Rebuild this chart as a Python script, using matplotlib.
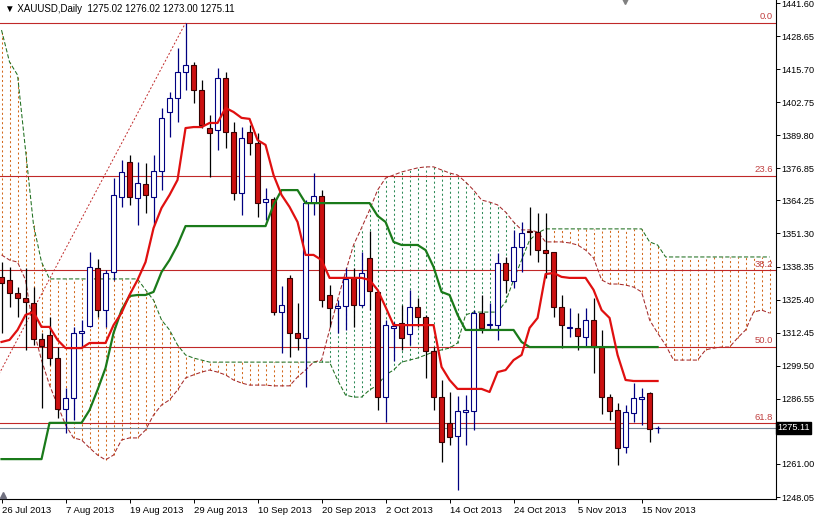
import matplotlib.pyplot as plt
import numpy as np

plt.rcParams['font.family'] = ['Liberation Sans', 'DejaVu Sans']

# --- daily OHLC, XAUUSD, 26 Jul 2013 .. 19 Nov 2013 (bar index = position) ---
open_ = [1334.3, 1333.1, 1328.0, 1326.0, 1324.1, 1310.0, 1311.5, 1302.5, 1282.5, 1286.8,
         1312.3, 1315.1, 1337.8, 1321.3, 1336.2, 1365.6, 1379.3, 1365.2, 1370.7, 1365.6,
         1375.8, 1398.9, 1404.4, 1414.6, 1417.3, 1407.5, 1392.6, 1391.9, 1412.2, 1391.1,
         1367.2, 1391.1, 1386.8, 1363.6, 1364.8, 1320.5, 1333.9, 1312.3, 1310.4, 1363.2,
         1366.0, 1327.2, 1322.1, 1322.9, 1333.9, 1323.3, 1341.7, 1328.4, 1287.2, 1314.3,
         1316.2, 1311.9, 1322.5, 1318.6, 1305.3, 1287.2, 1277.1, 1272.0, 1281.4, 1281.7,
         1320.1, 1315.4, 1315.4, 1339.7, 1332.7, 1346.0, 1352.3, 1351.9, 1344.8, 1344.1,
         1322.5, 1314.3, 1314.3, 1310.7, 1317.4, 1306.8, 1287.2, 1282.1, 1267.7, 1281.0,
         1286.4, 1288.8, 1275.02]
high = [1340.1, 1338.2, 1330.3, 1337.8, 1330.3, 1312.3, 1318.6, 1306.8, 1290.8, 1314.7,
        1317.4, 1344.1, 1341.3, 1337.0, 1373.0, 1380.1, 1382.1, 1379.3, 1378.9, 1382.1,
        1400.5, 1406.7, 1424.0, 1433.8, 1418.5, 1411.4, 1397.7, 1416.1, 1414.6, 1395.0,
        1393.0, 1393.8, 1390.7, 1369.1, 1365.6, 1330.7, 1335.0, 1324.1, 1364.4, 1375.0,
        1368.3, 1331.1, 1325.2, 1337.8, 1337.8, 1344.1, 1352.3, 1329.2, 1317.4, 1316.6,
        1323.3, 1329.2, 1326.0, 1319.4, 1306.8, 1293.9, 1289.2, 1287.6, 1288.0, 1321.3,
        1327.2, 1324.1, 1343.6, 1342.1, 1352.7, 1355.8, 1361.7, 1359.3, 1359.3, 1344.1,
        1327.2, 1322.1, 1320.2, 1322.1, 1326.0, 1313.5, 1288.4, 1284.9, 1284.1, 1292.7,
        1290.8, 1289.2, 1276.02]
low = [1312.3, 1322.5, 1318.6, 1305.7, 1307.6, 1282.9, 1299.8, 1279.0, 1273.1, 1278.2,
       1306.4, 1314.7, 1318.6, 1314.7, 1333.1, 1361.7, 1362.5, 1354.6, 1359.3, 1354.6,
       1368.3, 1389.1, 1395.0, 1407.5, 1402.4, 1392.6, 1373.4, 1384.0, 1384.8, 1364.4,
       1358.5, 1382.1, 1357.8, 1356.6, 1319.4, 1304.5, 1302.9, 1305.7, 1291.2, 1358.5,
       1322.5, 1314.7, 1312.3, 1313.5, 1314.7, 1322.5, 1321.3, 1282.1, 1277.4, 1301.3,
       1305.7, 1307.6, 1314.7, 1294.7, 1282.1, 1261.8, 1268.4, 1250.8, 1268.4, 1274.3,
       1312.3, 1313.5, 1309.6, 1328.0, 1329.9, 1336.2, 1342.9, 1340.1, 1333.9, 1318.6,
       1306.4, 1310.7, 1305.7, 1306.8, 1296.6, 1280.6, 1278.2, 1260.6, 1265.3, 1277.4,
       1276.3, 1269.6, 1273.00]
close = [1331.9, 1328.0, 1326.0, 1324.5, 1310.0, 1307.2, 1302.5, 1282.5, 1286.8, 1312.3,
         1313.1, 1338.2, 1321.3, 1335.8, 1366.4, 1375.4, 1365.6, 1371.1, 1366.4, 1375.8,
         1396.6, 1404.4, 1414.6, 1417.3, 1407.5, 1393.8, 1390.7, 1412.2, 1391.1, 1367.2,
         1388.7, 1386.8, 1363.2, 1364.8, 1320.5, 1323.3, 1312.3, 1310.4, 1363.2, 1366.0,
         1325.2, 1322.1, 1322.9, 1333.5, 1323.3, 1335.8, 1328.8, 1287.2, 1315.4, 1315.1,
         1310.4, 1322.5, 1318.6, 1305.3, 1287.2, 1269.6, 1271.6, 1281.7, 1282.1, 1320.1,
         1314.3, 1315.8, 1339.7, 1333.1, 1346.0, 1351.5, 1351.9, 1344.8, 1343.6, 1322.5,
         1315.4, 1314.7, 1311.1, 1317.4, 1306.8, 1287.2, 1281.7, 1267.3, 1281.4, 1286.8,
         1287.2, 1274.7, 1275.11]

# --- Ichimoku lines ---
tenkan = [1308.8, 1309.6, 1313.5, 1319.4, 1320.5, 1314.7, 1314.7, 1309.6, 1306.4, 1306.4,
          1306.4, 1308.4, 1308.4, 1308.4, 1315.4, 1320.2, 1327.2, 1333.1, 1340.1, 1353.4,
          1361.3, 1366.4, 1372.3, 1392.6, 1393.0, 1393.0, 1394.6, 1394.6, 1400.5, 1398.9,
          1396.6, 1396.2, 1387.9, 1386.0, 1374.2, 1366.4, 1361.7, 1355.8, 1342.9, 1342.9,
          1340.9, 1333.9, 1333.9, 1333.9, 1333.9, 1333.9, 1333.1, 1329.2, 1322.5, 1315.4,
          1315.4, 1315.4, 1315.4, 1315.4, 1315.4, 1299.0, 1293.9, 1290.4, 1290.4, 1290.4,
          1290.4, 1289.2, 1297.0, 1297.8, 1301.7, 1303.7, 1314.3, 1318.2, 1335.4, 1335.8,
          1334.3, 1333.9, 1333.9, 1333.9, 1329.2, 1321.3, 1318.2, 1303.7, 1293.9, 1293.5,
          1293.5, 1293.5, 1293.5]
kijun = [1262.9, 1262.9, 1262.9, 1262.9, 1262.9, 1262.9, 1277.1, 1277.1, 1277.1, 1277.1,
         1277.1, 1282.1, 1290.0, 1298.6, 1312.3, 1321.3, 1326.8, 1327.2, 1327.2, 1328.4,
         1336.2, 1340.9, 1346.8, 1354.2, 1354.2, 1354.2, 1354.2, 1354.2, 1354.2, 1354.2,
         1354.2, 1354.2, 1354.2, 1354.2, 1362.5, 1368.3, 1368.3, 1368.3, 1363.2, 1363.2,
         1363.2, 1363.2, 1363.2, 1363.2, 1363.2, 1363.2, 1363.2, 1358.2, 1355.8, 1348.0,
         1346.8, 1346.8, 1346.8, 1344.8, 1338.2, 1328.4, 1327.2, 1319.4, 1313.5, 1313.5,
         1313.5, 1313.5, 1313.5, 1313.5, 1313.5, 1308.8, 1306.8, 1306.8, 1306.8, 1306.8,
         1306.8, 1306.8, 1306.8, 1306.8, 1306.8, 1306.8, 1306.8, 1306.8, 1306.8, 1306.8,
         1306.8, 1306.8, 1306.8]
senkou_a = [1342.9, 1340.9, 1340.1, 1333.1, 1313.5, 1301.7, 1291.9, 1284.1, 1276.3, 1271.2,
            1270.4, 1267.3, 1264.5, 1262.6, 1264.5, 1270.4, 1271.2, 1271.2, 1274.3, 1280.2,
            1284.1, 1286.1, 1290.0, 1294.7, 1295.9, 1297.0, 1297.8, 1297.0, 1295.9, 1293.9,
            1292.7, 1291.9, 1291.9, 1291.9, 1291.6, 1291.6, 1291.6, 1295.1, 1297.8, 1300.9,
            1301.7, 1313.5, 1325.2, 1336.2, 1346.8, 1353.5, 1360.5, 1368.3, 1373.0, 1374.2,
            1375.4, 1376.2, 1377.0, 1377.4, 1377.4, 1376.2, 1375.0, 1374.2, 1371.5, 1368.3,
            1364.4, 1363.6, 1362.5, 1359.7, 1355.8, 1352.7, 1352.7, 1351.9, 1348.0, 1348.0,
            1348.0, 1347.6, 1346.8, 1344.8, 1341.7, 1333.1, 1331.5, 1331.5, 1331.1, 1330.3,
            1328.4, 1317.4, 1312.3, 1307.6, 1301.7, 1301.7, 1301.7, 1301.7, 1305.7, 1306.4,
            1306.8, 1306.8, 1310.4, 1313.5, 1320.5, 1321.3, 1320.1]
senkou_b = [1431.0, 1418.5, 1413.4, 1384.0, 1354.6, 1340.1, 1333.5, 1333.5, 1333.5, 1333.5,
            1333.5, 1333.5, 1333.5, 1333.5, 1333.5, 1333.5, 1333.5, 1333.5, 1329.2, 1325.2,
            1317.4, 1313.5, 1307.6, 1303.7, 1302.5, 1301.7, 1300.9, 1300.9, 1300.9, 1300.9,
            1300.9, 1300.9, 1300.9, 1300.9, 1300.9, 1300.9, 1300.9, 1300.9, 1300.9, 1300.9,
            1300.9, 1300.9, 1293.9, 1288.0, 1287.2, 1287.2, 1290.0, 1291.9, 1295.9, 1297.8,
            1300.9, 1301.7, 1302.5, 1303.7, 1304.9, 1305.7, 1306.4, 1308.4, 1319.4, 1320.5,
            1320.5, 1320.5, 1320.5, 1324.5, 1333.1, 1340.9, 1348.7, 1351.5, 1353.1, 1353.1,
            1353.1, 1353.1, 1353.1, 1353.1, 1353.1, 1353.1, 1353.1, 1353.1, 1353.1, 1353.1,
            1353.1, 1348.0, 1346.8, 1342.1, 1342.1, 1342.1, 1342.1, 1342.1, 1342.1, 1342.1,
            1342.1, 1342.1, 1342.1, 1342.1, 1342.1, 1342.1, 1342.1]

# --- fibonacci retracement ---
fib_anchor_bars = [-20, 23]
fib_anchor_prices = [1180.0, 1433.8]
fib_levels = [0.0, 23.6, 38.2, 50.0, 61.8]

bid = 1275.11
date_pos = [0, 8, 16, 24, 32, 40, 48, 56, 64, 72, 80]
date_labels = ['26 Jul 2013', '7 Aug 2013', '19 Aug 2013', '29 Aug 2013', '10 Sep 2013',
               '20 Sep 2013', '2 Oct 2013', '14 Oct 2013', '24 Oct 2013', '5 Nov 2013',
               '15 Nov 2013']
price_ticks = [1441.60, 1428.65, 1415.70, 1402.75, 1389.80, 1376.85, 1364.25, 1351.30,
               1338.35, 1325.40, 1312.45, 1299.50, 1286.55, 1261.00, 1248.05]

fig = plt.figure(figsize=(8.16, 5.18), dpi=100)
ax = fig.add_axes([0, 19 / 518, 776 / 816, 499 / 518])

n = len(close)
x = np.arange(n)
xc = np.arange(len(senkou_a))
sa = np.array(senkou_a)
sb = np.array(senkou_b)

# cloud: dotted verticals between the two spans
cloud_col = np.where(sb >= sa, '#d2691e', '#2e8b57')
ax.vlines(xc, np.minimum(sa, sb), np.maximum(sa, sb), colors=cloud_col,
          linestyles=(0, (2, 2.5)), linewidth=0.75, zorder=1)
ax.plot(xc, sa, color='#a52a2a', lw=0.75, ls=(0, (4, 2)), zorder=2)
ax.plot(xc, sb, color='#1f6f1f', lw=0.75, ls=(0, (4, 2)), zorder=2)

# fibonacci
fh, fl = fib_anchor_prices[1], fib_anchor_prices[0]
for lv in fib_levels:
    p = fh - (fh - fl) * lv / 100
    ax.axhline(p, color='#c02828', lw=0.8, zorder=2)
    ax.text(0.996, p + 0.6, f'{lv:.1f}', transform=ax.get_yaxis_transform(),
            ha='right', va='bottom', fontsize=6.8, color='#c04040', zorder=3)
ax.plot(fib_anchor_bars, fib_anchor_prices, color='#c02828', lw=0.7, ls=(0, (2, 2)),
        zorder=2)

# bid line
ax.axhline(bid, color='#778899', lw=0.8, zorder=2)

# candles
o = np.array(open_); c = np.array(close); h = np.array(high); l = np.array(low)
up = c >= o
ax.vlines(x[up], l[up], h[up], color='#000080', lw=0.9, zorder=3)
ax.vlines(x[~up], l[~up], h[~up], color='#000000', lw=0.9, zorder=3)
ax.bar(x[up], c[up] - o[up], bottom=o[up], width=0.62, facecolor='white',
       edgecolor='#000080', linewidth=0.8, zorder=4)
ax.bar(x[~up], c[~up] - o[~up], bottom=o[~up], width=0.62, facecolor='#cc1010',
       edgecolor='#3a0000', linewidth=0.8, zorder=4)

# tenkan / kijun
ax.plot(x, kijun, color='#1a7a1a', lw=1.6, zorder=5)
ax.plot(x, tenkan, color='#e01010', lw=1.6, zorder=6)

ax.set_xlim(-0.19, 96.8)
ax.set_ylim(1247.27, 1442.78)

for s in ['top', 'left']:
    ax.spines[s].set_visible(False)
ax.spines['right'].set_linewidth(0.8)
ax.spines['bottom'].set_linewidth(0.8)

ax.yaxis.tick_right()
ax.set_yticks(price_ticks)
ax.set_yticklabels([f'{v:.2f}' for v in price_ticks], fontsize=6.6)
ax.tick_params(axis='y', length=3, width=0.7, pad=1)
ax.set_xticks(date_pos)
ax.set_xticklabels(date_labels, fontsize=6.8, ha='left')
ax.tick_params(axis='x', length=3, width=0.7, pad=2)

ax.text(1.002, bid, f'{bid:.2f}', transform=ax.get_yaxis_transform(), ha='left',
        va='center', fontsize=6.6, color='white', clip_on=False,
        bbox=dict(boxstyle='square,pad=0.12', facecolor='black', edgecolor='black'))

ax.text(0.006, 0.992, '\u25bc XAUUSD,Daily  1275.02 1276.02 1273.00 1275.11',
        transform=ax.transAxes, ha='left', va='top', fontsize=7, zorder=7)
ax.plot([625 / 776], [0.997], marker='v', color='#808080', ms=4,
        transform=ax.transAxes, clip_on=False, zorder=7)
ax.plot([0.004], [0.008], marker='^', color='#707080', ms=4,
        transform=ax.transAxes, clip_on=False, zorder=7)

fig.savefig('out.png', dpi=100)
